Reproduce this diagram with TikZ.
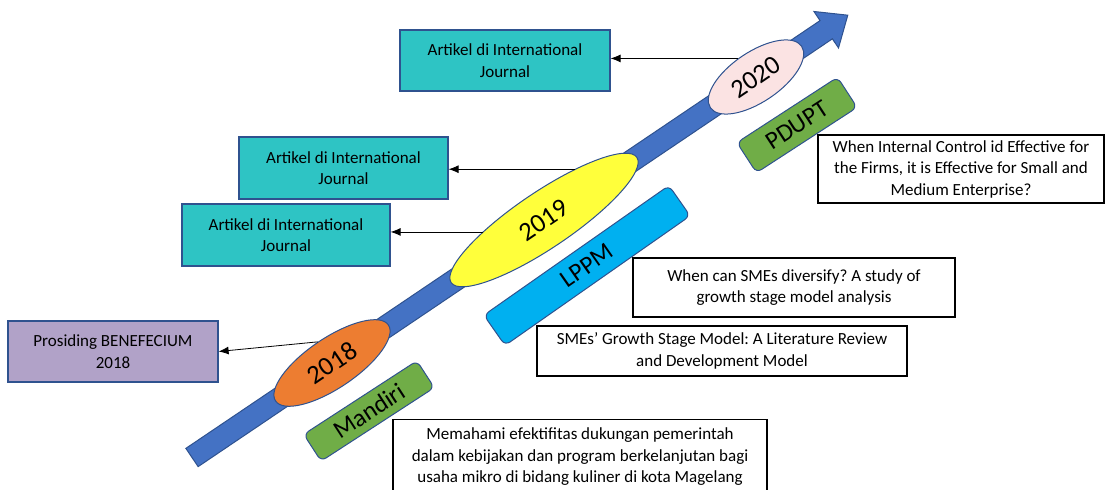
\documentclass[tikz,border=0pt]{standalone}
\usepackage{fontspec}
\setmainfont{Carlito}
\frenchspacing
\usetikzlibrary{shapes.geometric,arrows.meta,positioning,calc}
\definecolor{arrowblue}{HTML}{4472C4}
\definecolor{edgeblue}{HTML}{2F528F}
\definecolor{tealbox}{HTML}{2EC4C4}
\definecolor{lavbox}{HTML}{B1A2C8}
\definecolor{pinkyear}{HTML}{FBE3E3}
\definecolor{yellowyear}{HTML}{FFFF3B}
\definecolor{orangeyear}{HTML}{ED7D31}
\definecolor{greenfund}{HTML}{70AD47}
\definecolor{bluefund}{HTML}{00B0F0}

\begin{document}
\begin{tikzpicture}[x=1pt,y=1pt]

\tikzset{boxtext/.style={font=\fontsize{17}{21.5}\selectfont},
pubbox/.style={boxtext,draw=edgeblue,line width=1.2pt,align=center,inner sep=0pt},
titlebox/.style={boxtext,draw=black,line width=1.5pt,fill=white,align=center,inner sep=0pt},
yearnode/.style={shape=ellipse,draw=edgeblue,line width=1pt,inner sep=0pt,rotate=34,font=\fontsize{26.5}{30}\selectfont},
fundbox/.style={draw=edgeblue,line width=1pt,rounded corners=6pt,inner sep=0pt,font=\fontsize{25}{30}\selectfont},
link/.style={-{Latex[length=10pt,width=8pt]},line width=0.8pt}}

\clip (0,0) rectangle (1106,490);

% Time line
\filldraw[fill=arrowblue,draw=edgeblue,line width=1pt,shift={(192,32.5)},rotate=34] (0,-11) -- (765,-11) -- (765,-22) -- (791,0) -- (765,22) -- (765,11) -- (0,11) -- cycle;

% Publications
\node[pubbox,fill=tealbox,minimum width=210,minimum height=61] (art1) at (505,429.5) {Artikel di International\\Journal};
\node[pubbox,fill=tealbox,minimum width=209,minimum height=62] (art2) at (343.5,322) {Artikel di International\\Journal};
\node[pubbox,fill=tealbox,minimum width=208,minimum height=62] (art3) at (286,255) {Artikel di International\\Journal};
\node[pubbox,fill=lavbox,minimum width=210,minimum height=61] (pros) at (113,138.5) {Prosiding BENEFECIUM\\2018};

% Years
\node[yearnode,fill=orangeyear,minimum width=136,minimum height=50] (y2018) at (332,127) {2018};
\node[yearnode,fill=yellowyear,minimum width=224,minimum height=56] (y2019) at (544,270) {2019};
\node[yearnode,fill=pinkyear,minimum width=110,minimum height=50] (y2020) at (756,413) {2020};

% Links to publications
\draw[link] (y2020.100) -- (y2020.100 -| art1.east);
\draw[link] (y2019.25) -- (y2019.25 -| art2.east);
\draw[link] (y2019.157) -- (y2019.157 -| art3.east);
\draw[link] (y2018.north) -- (pros.east);

% Funding
\node[fundbox,fill=greenfund,minimum width=135,minimum height=32,rotate=33] (mandiri) at (369,79) {Mandiri};
\node[fundbox,fill=bluefund,minimum width=226,minimum height=37,rotate=35] (lppm) at (587,224.5) {LPPM};
\node[fundbox,fill=greenfund,minimum width=120,minimum height=36,rotate=33] (pdupt) at (797,365) {PDUPT};

% Titles
\node[titlebox,minimum width=286,minimum height=68] (ic) at (961,321) {When Internal Control id Effective for\\the Firms, it is Effective for Small and\\Medium Enterprise?};
\node[titlebox,minimum width=322,minimum height=59] (div) at (794,202.5) {When can SMEs diversify? A study of\\growth stage model analysis};
\node[titlebox,minimum width=370,minimum height=50] (gsm) at (722,139) {SMEs’ Growth Stage Model: A Literature Review\\and Development Model};
\node[titlebox,minimum width=374,inner ysep=8pt,anchor=north] (mem) at (580,71) {Memahami efektifitas dukungan pemerintah\\dalam kebijakan dan program berkelanjutan bagi\\usaha mikro di bidang kuliner di kota Magelang};

\end{tikzpicture}
\end{document}
